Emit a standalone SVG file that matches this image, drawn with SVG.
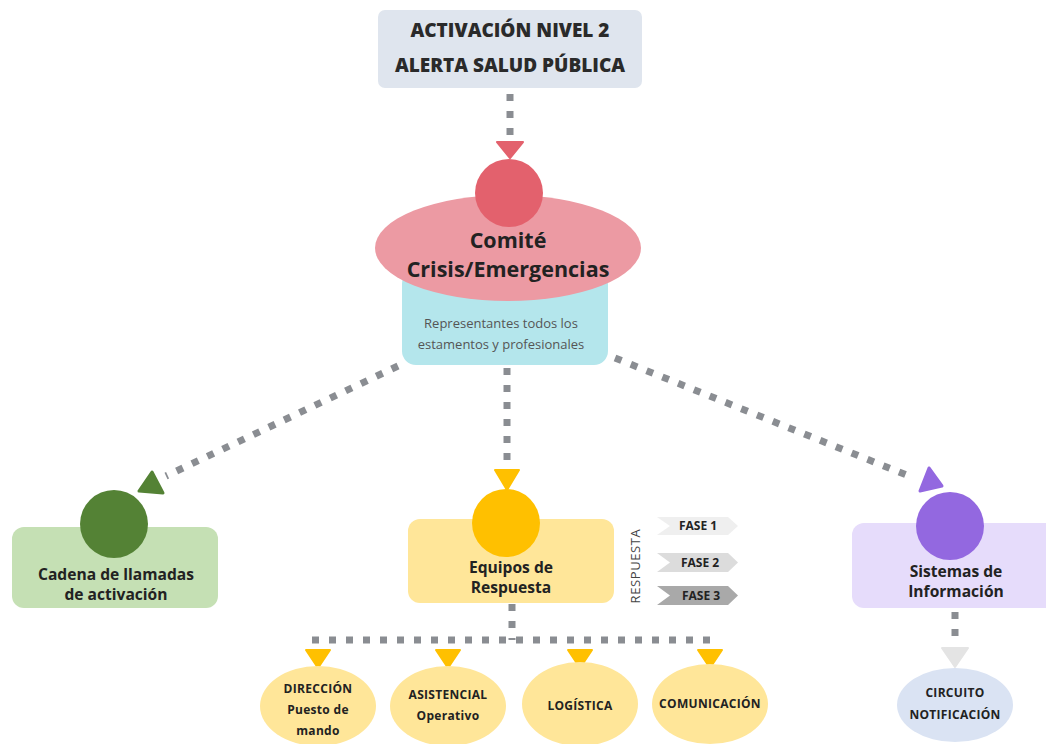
<svg xmlns="http://www.w3.org/2000/svg" width="1046" height="744" viewBox="0 0 1046 744">
<style>
.dash{fill:none;stroke:#8a8d92;stroke-width:7;stroke-dasharray:7 10}
.t{font-family:"Open Sans","Noto Sans",sans-serif;font-weight:bold;fill:#222;text-anchor:middle}
.title{font-family:"Open Sans",sans-serif;font-weight:800;font-size:19px;fill:#2a2a2a;text-anchor:middle}
.node{font-size:15.6px}
.small{font-family:"Open Sans",sans-serif;font-weight:bold;font-size:12px;letter-spacing:0.3px;fill:#222;text-anchor:middle}
.rep{font-family:"Open Sans",sans-serif;font-size:13px;fill:#555;text-anchor:middle}
</style>
<rect width="1046" height="744" fill="#fff"/>
<g id="connectors">
<path class="dash" d="M510 94 V142"/>
<path class="dash" d="M398 366 L166 476"/>
<path class="dash" d="M507 368 V470"/>
<path class="dash" d="M615 358 L914 478"/>
<path class="dash" d="M512 604 V640 M312 640 H719"/>
<path class="dash" d="M955 612 V646"/>
<path d="M497 142 H523 L510 158 Z" fill="#e3616d" stroke="#e3616d" stroke-width="2" stroke-linejoin="round"/>
<path d="M152 472 L163 493 L139 491 Z" fill="#548235" stroke="#548235" stroke-width="3" stroke-linejoin="round"/>
<path d="M495 470 H519 L507 490 Z" fill="#ffc000" stroke="#ffc000" stroke-width="2" stroke-linejoin="round"/>
<path d="M929 468 L942 486 L920 491 Z" fill="#9368e0" stroke="#9368e0" stroke-width="3" stroke-linejoin="round"/>
<path d="M942 648 H968 L955 667 Z" fill="#e4e4e4" stroke="#e4e4e4" stroke-width="2" stroke-linejoin="round"/>
<path d="M306 650 H330 L318 668 Z" fill="#ffc000" stroke="#ffc000" stroke-width="2" stroke-linejoin="round"/>
<path d="M436 650 H460 L448 668 Z" fill="#ffc000" stroke="#ffc000" stroke-width="2" stroke-linejoin="round"/>
<path d="M568 650 H592 L580 668 Z" fill="#ffc000" stroke="#ffc000" stroke-width="2" stroke-linejoin="round"/>
<path d="M698 650 H722 L710 668 Z" fill="#ffc000" stroke="#ffc000" stroke-width="2" stroke-linejoin="round"/>
</g>
<g id="activacion">
<rect x="378" y="10" width="264" height="78" rx="7" fill="#dfe5ee"/>
<text class="title" x="510" y="37">ACTIVACIÓN NIVEL 2</text>
<text class="title" x="510" y="72">ALERTA SALUD PÚBLICA</text>
</g>
<g id="comite">
<rect x="402" y="270" width="206" height="95" rx="14" fill="#b4e6ec"/>
<ellipse cx="508" cy="248" rx="133" ry="53" fill="#ec9aa3"/>
<circle cx="509" cy="193" r="34" fill="#e3616d"/>
<text class="t" x="508" y="248" font-size="21.5">Comité</text>
<text class="t" x="508" y="277" font-size="21.5">Crisis/Emergencias</text>
<text class="rep" x="501" y="328">Representantes todos los</text>
<text class="rep" x="501" y="349">estamentos y profesionales</text>
</g>
<g id="cadena">
<rect x="12" y="527" width="206" height="81" rx="12" fill="#c5e0b4"/>
<circle cx="114" cy="524" r="34" fill="#548235"/>
<text class="t node" x="116" y="580">Cadena de llamadas</text>
<text class="t node" x="116" y="600">de activación</text>
</g>
<g id="equipos">
<rect x="408" y="519" width="206" height="84" rx="12" fill="#ffe699"/>
<circle cx="506" cy="523" r="34" fill="#ffc000"/>
<text class="t node" x="511" y="573">Equipos de</text>
<text class="t node" x="511" y="593">Respuesta</text>
</g>
<g id="fases">
<text x="637" y="566" transform="rotate(-90 637 566)" font-family="'Open Sans',sans-serif" font-size="13" fill="#444" text-anchor="middle" dominant-baseline="middle" letter-spacing="0.6">RESPUESTA</text>
<path d="M657 517 H728 L738 526 L728 535 H657 L670 526 Z" fill="#efefef"/>
<path d="M657 553 H728 L738 562.5 L728 572 H657 L670 562.5 Z" fill="#dcdcdc"/>
<path d="M657 586 H728 L738 595.5 L728 605 H657 L670 595.5 Z" fill="#a9a9a9"/>
<text class="t" x="698" y="530" font-size="12">FASE 1</text>
<text class="t" x="700" y="567" font-size="12">FASE 2</text>
<text class="t" x="701" y="600" font-size="12">FASE 3</text>
</g>
<g id="sistemas">
<rect x="852" y="523" width="206" height="85" rx="12" fill="#e6dcfb"/>
<circle cx="950" cy="526" r="34" fill="#9368e0"/>
<text class="t node" x="956" y="577">Sistemas de</text>
<text class="t node" x="956" y="597">Información</text>
</g>
<g id="circuito">
<ellipse cx="955" cy="705" rx="58" ry="37" fill="#dae3f3"/>
<text class="small" x="955" y="697">CIRCUITO</text>
<text class="small" x="955" y="719">NOTIFICACIÓN</text>
</g>
<g id="direccion">
<ellipse cx="318" cy="706" rx="58" ry="40" fill="#ffe699"/>
<text class="small" x="318" y="693">DIRECCIÓN</text>
<text class="small" x="318" y="714">Puesto de</text>
<text class="small" x="318" y="735">mando</text>
</g>
<g id="asistencial">
<ellipse cx="448" cy="706" rx="58" ry="40" fill="#ffe699"/>
<text class="small" x="448" y="699">ASISTENCIAL</text>
<text class="small" x="448" y="720">Operativo</text>
</g>
<g id="logistica">
<ellipse cx="580" cy="704" rx="58" ry="42" fill="#ffe699"/>
<text class="small" x="580" y="710">LOGÍSTICA</text>
</g>
<g id="comunicacion">
<ellipse cx="710" cy="704" rx="58" ry="40" fill="#ffe699"/>
<text class="small" x="710" y="708">COMUNICACIÓN</text>
</g>
</svg>
